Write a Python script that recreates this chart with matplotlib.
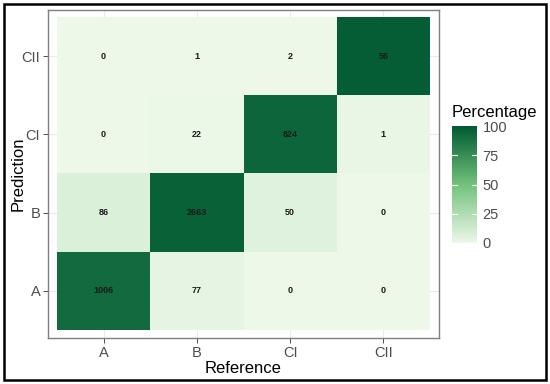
import numpy as np
import matplotlib
matplotlib.use("Agg")
import matplotlib.pyplot as plt
from matplotlib.colors import LinearSegmentedColormap
from matplotlib.patches import Rectangle

plt.rcParams['font.family'] = ['Liberation Sans', 'DejaVu Sans']

classes = ["A", "B", "CI", "CII"]
# counts[prediction][reference]
pred_A = [1006, 77, 0, 0]
pred_B = [86, 2663, 50, 0]
pred_CI = [0, 22, 824, 1]
pred_CII = [0, 1, 2, 56]
counts = np.array([pred_A, pred_B, pred_CI, pred_CII])
legend_ticks = [0, 25, 50, 75, 100]

pct = counts / counts.sum(axis=0, keepdims=True) * 100

cmap = LinearSegmentedColormap.from_list(
    "g", [(0, "#EDF8E9"), (0.5, "#72C27C"), (1, "#005A32")])

W, H = 550, 384
fig = plt.figure(figsize=(5.5, 3.84), dpi=100)

def fx(px):
    return px / W

def fy(py):
    return 1 - py / H

pl, pr, pt, pb = 48, 439, 10, 338
ax = fig.add_axes([fx(pl), fy(pb), fx(pr - pl), (pb - pt) / H])
x = np.arange(1, 5)
ax.pcolormesh(np.arange(0.5, 5), np.arange(0.5, 5), pct, cmap=cmap,
              vmin=0, vmax=100, zorder=2)
for i in range(4):
    for j in range(4):
        ax.text(j + 1, i + 1, str(counts[i, j]), ha="center", va="center",
                fontsize=6.5, fontweight="bold", color="#1a1a1a", zorder=3)

ax.set_xlim(0.4035, 4.5965)
ax.set_ylim(0.398, 4.589)
ax.set_xticks(x)
ax.set_yticks(x)
ax.set_xticklabels(classes)
ax.set_yticklabels(classes)
ax.grid(True, color="#EBEBEB", linewidth=0.8, zorder=0)
ax.set_axisbelow(True)
for s in ax.spines.values():
    s.set_color("#7F7F7F")
    s.set_linewidth(1.0)
ax.tick_params(axis="both", colors="#333333", labelcolor="#4D4D4D",
               labelsize=10.5, length=3.5, width=0.6, pad=2)
ax.set_xlabel("Reference", fontsize=12, color="black", labelpad=1)
ax.set_ylabel("Prediction", fontsize=12, color="black")
ax.yaxis.set_label_coords((26 - pl) / (pr - pl), 0.5)

# colorbar
cax = fig.add_axes([fx(452), fy(243), fx(477 - 452), (243 - 126) / H])
grad = np.linspace(0, 100, 256).reshape(-1, 1)
cax.imshow(grad, aspect="auto", cmap=cmap, origin="lower",
           extent=[0, 1, 0, 100], vmin=0, vmax=100)
cax.set_xticks([])
cax.yaxis.tick_right()
cax.set_yticks(legend_ticks)
cax.set_yticklabels([str(t) for t in legend_ticks])
cax.tick_params(axis="y", length=0, labelsize=10.5, labelcolor="#4D4D4D", pad=4)
for t in legend_ticks[1:-1]:
    cax.plot([0, 0.2], [t, t], color="white", lw=0.8)
    cax.plot([0.8, 1], [t, t], color="white", lw=0.8)
cax.set_xlim(0, 1)
cax.set_ylim(0, 100)
for s in cax.spines.values():
    s.set_visible(False)
fig.text(fx(452), fy(112), "Percentage", fontsize=12, ha="left", va="center")

# outer frame
fig.patches.append(Rectangle((fx(4), fy(380)), fx(546 - 4), (380 - 4) / H,
                             transform=fig.transFigure, fill=False,
                             edgecolor="black", linewidth=1.8))

fig.savefig("out.png", dpi=100)
